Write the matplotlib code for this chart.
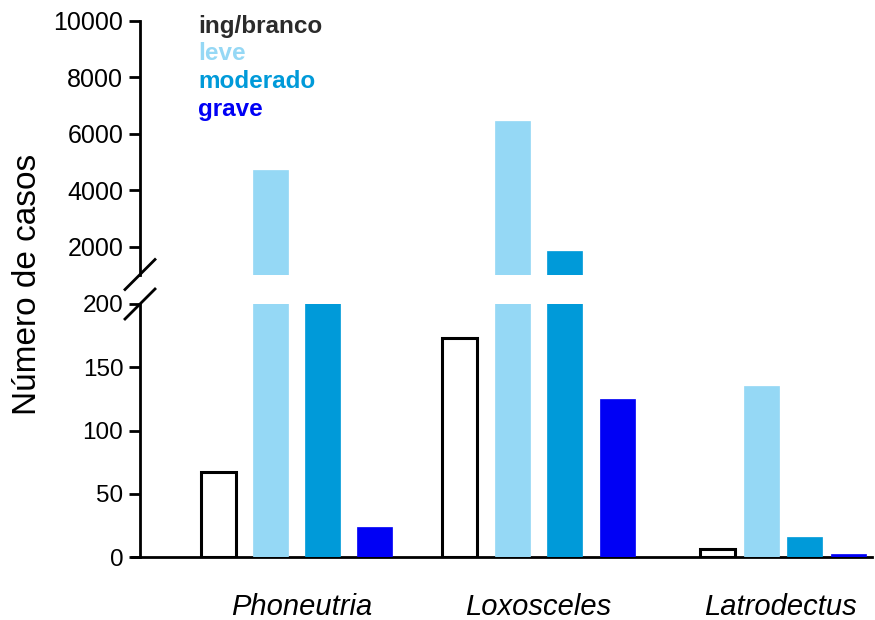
import matplotlib
matplotlib.use("Agg")
import matplotlib.pyplot as plt
import matplotlib.transforms as mtransforms
import numpy as np

plt.rcParams['font.family'] = ['Liberation Sans', 'DejaVu Sans']

# ---- data ----
genera = ["Phoneutria", "Loxosceles", "Latrodectus"]
severities = ["ing/branco", "leve", "moderado", "grave"]
ing_branco = [67, 173, 6]
leve = [4715, 6460, 135]
moderado = [750, 1850, 16]
grave = [24, 125, 2]
upper_ticks = [2000, 4000, 6000, 8000, 10000]
lower_ticks = [0, 50, 100, 150, 200]

series = [ing_branco, leve, moderado, grave]
face_colors = ["white", "#95d8f5", "#009ad9", "#0000f5"]
edge_colors = ["black", "#95d8f5", "#009ad9", "#0000f5"]
legend_colors = ["#2b2b2b", "#95d8f5", "#009ad9", "#0000f5"]

W, H = 875, 620
fig = plt.figure(figsize=(W / 100, H / 100), dpi=100)

def fx(px):
    return px / W

def fy(py):
    return 1 - py / H

ax_left_px, ax_right_px = 140, 872
low_top, low_bot = 304, 557
up_top, up_bot = 21, 275

ax_low = fig.add_axes([fx(ax_left_px), fy(low_bot), fx(ax_right_px - ax_left_px), (low_bot - low_top) / H])
ax_up = fig.add_axes([fx(ax_left_px), fy(up_bot), fx(ax_right_px - ax_left_px), (up_bot - up_top) / H])

# layout: group centers and step between bars (axis units ~ pixels)
group_centers = [156, 398.5, 643]
group_steps = [52, 52.5, 43.5]
bar_w = 35

for ax in (ax_low, ax_up):
    for i, vals in enumerate(series):
        xs = [c + (i - 1.5) * s for c, s in zip(group_centers, group_steps)]
        lw = 2.2 if i == 0 else 0.5
        ax.bar(xs, vals, width=bar_w, color=face_colors[i], edgecolor=edge_colors[i],
               linewidth=lw, zorder=3)
    ax.set_xlim(0, ax_right_px - ax_left_px)
    ax.spines['top'].set_visible(False)
    ax.spines['right'].set_visible(False)
    ax.spines['left'].set_linewidth(2)
    ax.tick_params(axis='y', direction='out', length=8, width=2, pad=4)
    ax.set_xticks([])

ax_low.set_ylim(0, 200)
ax_low.set_yticks(lower_ticks)
ax_low.set_yticklabels([str(t) for t in lower_ticks], fontsize=17.5)
ax_low.spines['bottom'].set_linewidth(2)
ax_low.spines['bottom'].set_bounds(-8, ax_right_px - ax_left_px)

ax_up.set_ylim(1000, 10000)
ax_up.set_yticks(upper_ticks)
ax_up.set_yticklabels([str(t) for t in upper_ticks], fontsize=18)
ax_up.spines['bottom'].set_visible(False)

# break marks
for cy in (304, 274.5):
    fig.add_artist(plt.Line2D([fx(125), fx(155)], [fy(cy + 15), fy(cy - 15)],
                              color="black", linewidth=2))

# category labels
trans = mtransforms.blended_transform_factory(ax_low.transData, fig.transFigure)
label_x = [162, 398, 640]
for name, lx in zip(genera, label_x):
    ax_low.text(lx, fy(615), name, transform=trans, ha='center', va='baseline',
                fontsize=21, style='italic')

# y label
fig.text(fx(28), fy(284), "Número de casos", rotation=90, ha='center', va='center', fontsize=24)

# legend as colored text
for k, (name, col) in enumerate(zip(severities, legend_colors)):
    fig.text(fx(198), fy(26 + k * 27.7), name, color=col, fontsize=17.5, fontweight='bold',
             ha='left', va='center')

fig.savefig("out.png", dpi=100)
